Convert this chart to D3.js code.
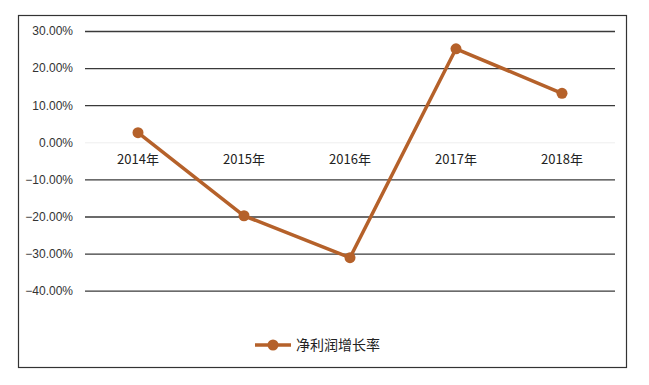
<!DOCTYPE html>
<html lang="zh">
<head>
<meta charset="UTF-8">
<title>净利润增长率</title>
<script src="https://cdn.jsdelivr.net/npm/d3@7"></script>
<style>
  body { margin: 0; background: #fff; }
  svg { display: block; font-family: "Noto Sans CJK SC", "Noto Sans", sans-serif; }
</style>
</head>
<body>
<svg class="root"></svg>
<script>
    const years = ["2014年", "2015年", "2016年", "2017年", "2018年"];
    const growth = [0.026, -0.198, -0.311, 0.252, 0.132];
    const yTicks = [0.3, 0.2, 0.1, 0, -0.1, -0.2, -0.3, -0.4];
    const seriesName = "净利润增长率";

    const width = 649, height = 385;
    const color = "#b5612a";
    const plot = {left: 85, right: 615, top: 31, bottom: 290.7};

    const svg = d3.select(".root")
        .attr("width", width)
        .attr("height", height);

    // frame
    svg.append("rect")
        .attr("x", 18.5).attr("y", 15.5)
        .attr("width", 608).attr("height", 352)
        .attr("fill", "#fff")
        .attr("stroke", "#333")
        .attr("stroke-width", 1.2);

    const x = d3.scaleBand().domain(years).range([plot.left, plot.right]);
    const y = d3.scaleLinear().domain([-0.4, 0.3]).range([plot.bottom, plot.top]);

    // grid lines + tick labels
    const yAxis = g => g
        .attr("transform", `translate(${plot.left},0)`)
        .call(d3.axisLeft(y).tickValues(yTicks).tickFormat(d3.format(".2%"))
            .tickSize(-(plot.right - plot.left)).tickPadding(12))
        .call(g => g.select(".domain").remove())
        .call(g => g.selectAll(".tick line")
            .attr("stroke", d => d === 0 ? "#eeeeee" : "#3a3a3a")
            .attr("stroke-width", d => d === 0 ? 1 : 1.3))
        .call(g => g.selectAll(".tick text")
            .attr("fill", "#333")
            .style("font-size", "12px"));

    svg.append("g").call(yAxis);

    // category labels sit just under the zero line
    svg.append("g")
        .selectAll("text")
        .data(years)
        .join("text")
        .attr("x", d => x(d) + x.bandwidth() / 2)
        .attr("y", y(0) + 22)
        .attr("text-anchor", "middle")
        .attr("fill", "#222")
        .style("font-size", "13px")
        .text(d => d);

    const line = d3.line()
        .x((d, i) => x(years[i]) + x.bandwidth() / 2)
        .y(d => y(d));

    svg.append("path")
        .datum(growth)
        .attr("fill", "none")
        .attr("stroke", color)
        .attr("stroke-width", 3.5)
        .attr("stroke-linejoin", "round")
        .attr("d", line);

    svg.append("g")
        .selectAll("circle")
        .data(growth)
        .join("circle")
        .attr("cx", (d, i) => x(years[i]) + x.bandwidth() / 2)
        .attr("cy", d => y(d))
        .attr("r", 5.5)
        .attr("fill", color);

    // legend
    const lg = svg.append("g").attr("transform", "translate(255,345)");
    lg.append("line")
        .attr("x1", 0).attr("x2", 36)
        .attr("stroke", color).attr("stroke-width", 3.5);
    lg.append("circle").attr("cx", 18).attr("r", 5.5).attr("fill", color);
    lg.append("text")
        .attr("x", 41).attr("dy", "0.35em")
        .attr("fill", "#222")
        .style("font-size", "14px")
        .text(seriesName);
</script>
</body>
</html>
